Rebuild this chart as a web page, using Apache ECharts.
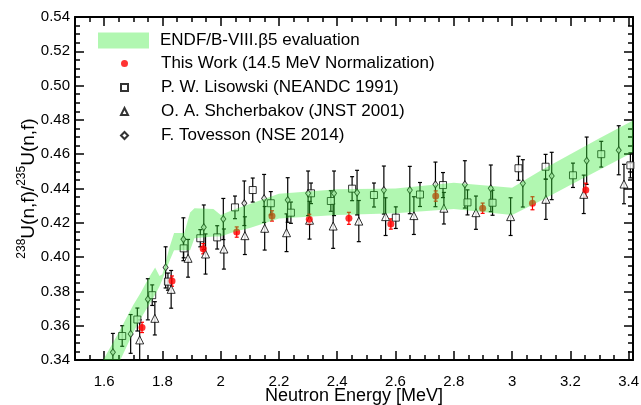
<!DOCTYPE html>
<html>
<head>
<meta charset="utf-8">
<script src="https://cdn.jsdelivr.net/npm/echarts@6/dist/echarts.min.js"></script>
<style>
html,body{margin:0;padding:0;background:#fff;}
#chart{width:641px;height:405px;}
</style>
</head>
<body>
<div id="chart"></div>
<script>
// ENDF/B-VIII.beta5 evaluation band (lower / upper edges)
const bandX  = [1.55, 1.60, 1.65, 1.70, 1.725, 1.75, 1.775, 1.79, 1.80, 1.825, 1.84, 1.875, 1.895, 1.91, 1.975, 2.00, 2.05, 2.10, 2.20, 2.40, 2.60, 2.80, 3.00, 3.10, 3.20, 3.30, 3.43];
const bandLo = [0.320, 0.330, 0.338, 0.356, 0.364, 0.371, 0.378, 0.383, 0.387, 0.398, 0.404, 0.404, 0.404, 0.411, 0.412, 0.412, 0.415, 0.417, 0.4225, 0.4245, 0.4255, 0.428, 0.4245, 0.433, 0.442, 0.451, 0.4625];
const bandHi = [0.325, 0.341, 0.356, 0.372, 0.379, 0.387, 0.394, 0.389, 0.390, 0.406, 0.414, 0.414, 0.426, 0.4285, 0.428, 0.4245, 0.428, 0.431, 0.437, 0.4395, 0.440, 0.4434, 0.4405, 0.4507, 0.460, 0.4693, 0.481];

// This Work (14.5 MeV Normalization)
const thisX   = [1.730, 1.833, 1.940, 2.055, 2.176, 2.304, 2.440, 2.584, 2.738, 2.899, 3.070, 3.253];
const thisY   = [0.3590, 0.3860, 0.4049, 0.4146, 0.4240, 0.4220, 0.4226, 0.4193, 0.4356, 0.4285, 0.4314, 0.4391];
const thisErr = [0.003, 0.003, 0.003, 0.003, 0.003, 0.003, 0.0035, 0.003, 0.003, 0.003, 0.0038, 0.004];

// P. W. Lisowski (NEANDC 1991)
const lisX   = [1.662, 1.714, 1.765, 1.819, 1.873, 1.930, 1.988, 2.049, 2.110, 2.172, 2.241, 2.310, 2.378, 2.451, 2.526, 2.601, 2.684, 2.763, 2.847, 2.933, 3.022, 3.115, 3.209, 3.306, 3.406];
const lisY   = [0.3540, 0.3636, 0.3778, 0.3857, 0.4051, 0.4110, 0.4115, 0.4290, 0.4391, 0.4314, 0.4259, 0.4372, 0.4327, 0.4399, 0.4362, 0.4230, 0.4365, 0.4420, 0.4319, 0.4317, 0.4518, 0.4527, 0.4477, 0.4600, 0.4535];
const lisErr = [0.006, 0.0067, 0.006, 0.005, 0.0055, 0.005, 0.0068, 0.0066, 0.007, 0.0068, 0.0062, 0.006, 0.006, 0.007, 0.007, 0.0063, 0.007, 0.0073, 0.0073, 0.0073, 0.007, 0.0072, 0.0071, 0.0075, 0.0073];

// O. A. Shcherbakov (JNST 2001)
const shcX   = [1.722, 1.774, 1.830, 1.888, 1.948, 2.011, 2.083, 2.151, 2.226, 2.305, 2.386, 2.474, 2.566, 2.663, 2.766, 2.876, 2.995, 3.116, 3.246, 3.384];
const shcY   = [0.3517, 0.3643, 0.3812, 0.3993, 0.4018, 0.4047, 0.4125, 0.4168, 0.4142, 0.4215, 0.4181, 0.4210, 0.4236, 0.4242, 0.4285, 0.4259, 0.4236, 0.4337, 0.4366, 0.4426];
const shcErr = [0.0117, 0.0097, 0.011, 0.011, 0.0117, 0.0117, 0.011, 0.0127, 0.011, 0.011, 0.013, 0.012, 0.011, 0.011, 0.0092, 0.0097, 0.011, 0.0117, 0.0112, 0.0115];

// F. Tovesson (NSE 2014)
const tovX   = [1.630, 1.691, 1.750, 1.811, 1.872, 1.942, 2.009, 2.081, 2.149, 2.230, 2.300, 2.389, 2.468, 2.560, 2.649, 2.737, 2.838, 2.927, 3.037, 3.136, 3.256, 3.366];
const tovY   = [0.3445, 0.3552, 0.3754, 0.3940, 0.4104, 0.4174, 0.4222, 0.4314, 0.4342, 0.4333, 0.4372, 0.4372, 0.4376, 0.4391, 0.4391, 0.4424, 0.4424, 0.4401, 0.4430, 0.4473, 0.4562, 0.4623];
const tovErr = [0.011, 0.0113, 0.012, 0.012, 0.0125, 0.013, 0.012, 0.013, 0.014, 0.013, 0.013, 0.013, 0.013, 0.014, 0.0138, 0.013, 0.0138, 0.0136, 0.0138, 0.0138, 0.0138, 0.0143];

// axis ticks / labels
const xMajor = [1.6, 1.8, 2.0, 2.2, 2.4, 2.6, 2.8, 3.0, 3.2, 3.4];
const xMinor = [1.5, 1.55, 1.6, 1.65, 1.7, 1.75, 1.8, 1.85, 1.9, 1.95, 2.0, 2.05, 2.1, 2.15, 2.2, 2.25, 2.3, 2.35, 2.4, 2.45, 2.5, 2.55, 2.6, 2.65, 2.7, 2.75, 2.8, 2.85, 2.9, 2.95, 3.0, 3.05, 3.1, 3.15, 3.2, 3.25, 3.3, 3.35, 3.4];

const names = {
  band: 'ENDF/B-VIII.\u03b25 evaluation',
  tw: 'This Work (14.5 MeV Normalization)',
  lis: 'P. W. Lisowski (NEANDC 1991)',
  shc: 'O. A. Shcherbakov (JNST 2001)',
  tov: 'F. Tovesson (NSE 2014)'
};

const FONT = 'Liberation Sans';
const XMIN = 1.5, XMAX = 3.415;
const BAND_COLOR = 'rgba(50,235,50,0.38)';

function zip3(a, b, c) { return a.map((v, i) => [v, b[i], c[i]]); }
function zip2(a, b) { return a.map((v, i) => [v, b[i]]); }

function errRender(color) {
  return function (params, api) {
    const x = api.value(0), y = api.value(1), e = api.value(2);
    const p1 = api.coord([x, y + e]), p2 = api.coord([x, y - e]);
    const style = { stroke: color, lineWidth: 1.2 };
    return {
      type: 'group',
      children: [
        { type: 'line', shape: { x1: p1[0], y1: p1[1], x2: p2[0], y2: p2[1] }, style: style },
        { type: 'line', shape: { x1: p1[0] - 2, y1: p1[1], x2: p1[0] + 2, y2: p1[1] }, style: style },
        { type: 'line', shape: { x1: p2[0] - 2, y1: p2[1], x2: p2[0] + 2, y2: p2[1] }, style: style }
      ]
    };
  };
}

function errSeries(xs, ys, es, color) {
  return {
    type: 'custom', xAxisIndex: 0, yAxisIndex: 0, z: 1, silent: true,
    renderItem: errRender(color),
    encode: { x: 0, y: 1 },
    data: zip3(xs, ys, es),
    clip: true
  };
}

const bandData = zip3(bandX, bandLo, bandHi);

function bandRender(params, api) {
  if (params.dataIndex !== 0) return null;
  const pts = [];
  for (let i = 0; i < bandX.length; i++) pts.push(api.coord([bandX[i], bandHi[i]]));
  for (let i = bandX.length - 1; i >= 0; i--) pts.push(api.coord([bandX[i], bandLo[i]]));
  return { type: 'polygon', shape: { points: pts }, style: { fill: BAND_COLOR } };
}

const axisLineStyle = { color: '#000', width: 2 };
const tickStyle = { color: '#000', width: 1.5 };

function xAxisDef(pos, major) {
  return {
    type: 'value', min: XMIN, max: XMAX, position: pos,
    axisLine: { show: major, onZero: false, lineStyle: axisLineStyle },
    axisTick: { show: true, inside: true, length: major ? 9 : 5, customValues: major ? xMajor : xMinor, lineStyle: tickStyle },
    axisLabel: (pos === 'bottom' && major) ? {
      show: true, customValues: xMajor, margin: 14, color: '#000', fontFamily: FONT, fontSize: 15,
      formatter: v => String(+(+v).toFixed(1))
    } : { show: false },
    splitLine: { show: false },
    name: (pos === 'bottom' && major) ? 'Neutron Energy [MeV]' : '',
    nameLocation: 'middle', nameGap: 27, nameMoveOverlap: false,
    nameTextStyle: { color: '#000', fontFamily: FONT, fontSize: 18 }
  };
}

function yAxisDef(pos) {
  return {
    type: 'value', min: 0.34, max: 0.54, interval: 0.02, position: pos,
    axisLine: { show: true, onZero: false, lineStyle: axisLineStyle },
    axisTick: { show: true, inside: true, length: 9, lineStyle: tickStyle },
    minorTick: { show: true, splitNumber: 4, length: 5, lineStyle: tickStyle },
    axisLabel: pos === 'left' ? {
      show: true, margin: 5, color: '#000', fontFamily: FONT, fontSize: 15,
      formatter: v => (+v).toFixed(2)
    } : { show: false },
    splitLine: { show: false },
    minorSplitLine: { show: false },
    name: pos === 'left' ? '{sup|238}{n|U(n,f)/}{sup|235}{n|U(n,f)}' : '',
    nameLocation: 'middle', nameRotate: 90, nameGap: 37, nameMoveOverlap: false,
    nameTextStyle: {
      color: '#000', fontFamily: FONT, fontSize: 19,
      rich: {
        n: { fontFamily: FONT, fontSize: 19, color: '#000', lineHeight: 22, verticalAlign: 'bottom' },
        sup: { fontFamily: FONT, fontSize: 12, color: '#000', lineHeight: 22, verticalAlign: 'top' }
      }
    }
  };
}

const legendText = { color: '#000', fontFamily: FONT, fontSize: 17, lineHeight: 17 };

const chart = echarts.init(document.getElementById('chart'), null, { renderer: 'canvas' });
chart.setOption({
  animation: false,
  backgroundColor: '#fff',
  grid: { left: 75, right: 8, top: 17, bottom: 45, containLabel: false, outerBoundsMode: 'none' },
  xAxis: [xAxisDef('bottom', true), xAxisDef('bottom', false), xAxisDef('top', true), xAxisDef('top', false)],
  yAxis: [yAxisDef('left'), yAxisDef('right')],
  legend: [
    {
      orient: 'vertical', left: 93, top: 27, itemWidth: 51, itemHeight: 16, itemGap: 7,
      selectedMode: false,
      textStyle: Object.assign({ padding: [0, 0, 0, 6] }, legendText),
      data: [{ name: names.band, icon: 'rect', itemStyle: { color: 'rgb(177,247,177)', borderWidth: 0 } }]
    },
    {
      orient: 'vertical', left: 115, top: 50, itemWidth: 7, itemHeight: 7, itemGap: 7,
      selectedMode: false,
      textStyle: Object.assign({ padding: [0, 0, 0, 28] }, legendText),
      data: [
        { name: names.tw, icon: 'circle' },
        { name: names.lis, icon: 'rect' },
        { name: names.shc, icon: 'triangle' },
        { name: names.tov, icon: 'diamond' }
      ]
    }
  ],
  series: [
    errSeries(lisX, lisY, lisErr, '#000'),
    errSeries(shcX, shcY, shcErr, '#000'),
    errSeries(tovX, tovY, tovErr, '#000'),
    errSeries(thisX, thisY, thisErr, '#ff0000'),
    {
      name: names.lis, type: 'scatter', z: 2, symbol: 'rect', symbolSize: 7,
      itemStyle: { color: '#fff', borderColor: '#000', borderWidth: 1 },
      data: zip2(lisX, lisY), clip: true
    },
    {
      name: names.shc, type: 'scatter', z: 2, symbol: 'triangle', symbolSize: 8,
      itemStyle: { color: '#fff', borderColor: '#000', borderWidth: 1 },
      data: zip2(shcX, shcY), clip: true
    },
    {
      name: names.tov, type: 'scatter', z: 2, symbol: 'diamond', symbolSize: [5, 7],
      itemStyle: { color: '#fff', borderColor: '#000', borderWidth: 1 },
      data: zip2(tovX, tovY), clip: true
    },
    {
      name: names.tw, type: 'scatter', z: 2, symbol: 'circle', symbolSize: 7,
      itemStyle: { color: '#ff0000' },
      data: zip2(thisX, thisY), clip: true
    },
    {
      name: names.band, type: 'custom', z: 3, silent: true,
      renderItem: bandRender, encode: { x: 0, y: 1 },
      itemStyle: { color: 'rgb(177,247,177)' },
      data: bandData, clip: true
    }
  ]
});
</script>
</body>
</html>
